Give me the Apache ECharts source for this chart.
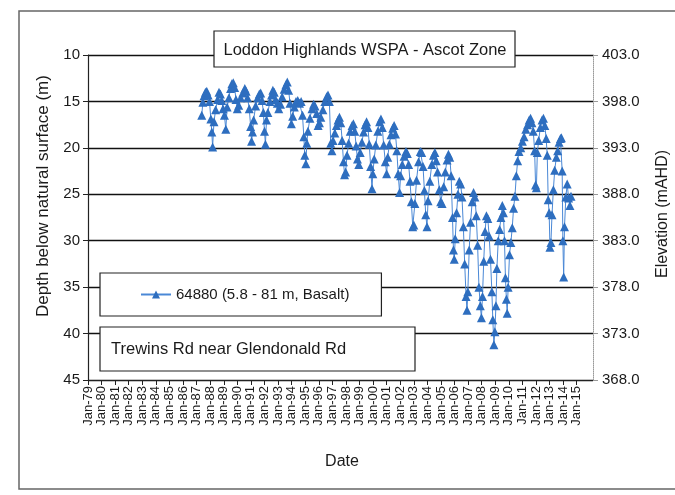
<!DOCTYPE html>
<html>
<head>
<meta charset="utf-8">
<script src="https://cdn.jsdelivr.net/npm/echarts@6/dist/echarts.min.js"></script>
<style>html,body{margin:0;padding:0;background:#fff}#c{width:675px;height:495px}</style>
</head>
<body>
<div id="c"></div>
<script>
// ---- data ----
var seriesName = '64880 (5.8 - 81 m, Basalt)';
var titleText = 'Loddon Highlands WSPA - Ascot Zone';
var siteText = 'Trewins Rd near Glendonald Rd';
var groundElevation = 413; // mAHD, elevation = groundElevation - depth
var yearTicks = [1979,1980,1981,1982,1983,1984,1985,1986,1987,1988,1989,1990,1991,1992,1993,1994,1995,1996,1997,1998,1999,2000,2001,2002,2003,2004,2005,2006,2007,2008,2009,2010,2011,2012,2013,2014,2015];
var yearLabels = ['Jan-79','Jan-80','Jan-81','Jan-82','Jan-83','Jan-84','Jan-85','Jan-86','Jan-87','Jan-88','Jan-89','Jan-90','Jan-91','Jan-92','Jan-93','Jan-94','Jan-95','Jan-96','Jan-97','Jan-98','Jan-99','Jan-00','Jan-01','Jan-02','Jan-03','Jan-04','Jan-05','Jan-06','Jan-07','Jan-08','Jan-09','Jan-10','Jan-11','Jan-12','Jan-13','Jan-14','Jan-15'];
var dates = [
1987.38,1987.46,1987.55,1987.65,1987.75,1987.85,1987.95,1988.05,1988.12,1988.18,1988.28,1988.4,1988.55,1988.65,1988.75,1988.85,1988.95,
1989.05,1989.15,1989.25,1989.38,1989.5,1989.6,1989.7,1989.8,1989.9,1990.0,1990.1,1990.25,1990.4,1990.55,1990.65,1990.75,1990.88,1990.98,
1991.05,1991.12,1991.2,1991.35,1991.5,1991.62,1991.72,1991.82,1991.92,1992.0,1992.07,1992.15,1992.25,1992.4,1992.52,1992.62,1992.72,1992.82,1992.95,
1993.05,1993.18,1993.3,1993.45,1993.58,1993.68,1993.78,1993.88,1993.98,1994.08,1994.2,1994.32,1994.45,1994.58,1994.7,1994.8,1994.9,1994.97,
1995.05,1995.12,1995.2,1995.35,1995.5,1995.62,1995.72,1995.85,1995.95,1996.05,1996.15,1996.3,1996.45,1996.58,1996.68,1996.78,1996.88,1996.97,
1997.05,1997.18,1997.3,1997.42,1997.52,1997.62,1997.72,1997.82,1997.9,1997.98,1998.08,1998.2,1998.32,1998.45,1998.55,1998.65,1998.75,1998.85,1998.95,
1999.05,1999.18,1999.3,1999.42,1999.52,1999.62,1999.72,1999.82,1999.92,1999.98,2000.08,2000.2,2000.35,2000.48,2000.58,2000.68,2000.78,2000.9,
2001.0,2001.08,2001.2,2001.32,2001.45,2001.55,2001.65,2001.75,2001.85,2001.95,2002.03,2002.15,2002.28,2002.42,2002.52,2002.62,2002.72,2002.82,2002.92,
2003.0,2003.08,2003.2,2003.35,2003.48,2003.58,2003.68,2003.78,2003.88,2003.97,2004.05,2004.18,2004.32,2004.45,2004.55,2004.65,2004.75,2004.88,2004.98,
2005.08,2005.2,2005.32,2005.45,2005.55,2005.65,2005.75,2005.85,2005.92,2005.98,2006.05,2006.15,2006.25,2006.35,2006.45,2006.55,2006.65,2006.75,2006.85,2006.92,2006.98,
2007.08,2007.18,2007.3,2007.4,2007.5,2007.6,2007.7,2007.8,2007.9,2007.98,2008.06,2008.15,2008.25,2008.35,2008.45,2008.55,2008.65,2008.75,2008.82,2008.9,2008.97,
2009.05,2009.12,2009.22,2009.32,2009.42,2009.52,2009.6,2009.68,2009.75,2009.82,2009.88,2009.95,2010.05,2010.15,2010.25,2010.35,2010.45,2010.55,2010.65,2010.75,2010.88,
2011.0,2011.12,2011.25,2011.38,2011.5,2011.6,2011.7,2011.8,2011.9,2011.97,2012.03,2012.1,2012.2,2012.32,2012.45,2012.55,2012.65,2012.75,2012.83,2012.9,2012.97,
2013.03,2013.1,2013.18,2013.28,2013.38,2013.5,2013.6,2013.7,2013.8,2013.87,2013.93,2013.98,2014.04,2014.1,2014.2,2014.3,2014.4,2014.5,2014.58
];
var depths = [
16.5,15.1,14.4,14.0,13.9,14.3,15.0,16.9,18.3,19.9,17.2,15.9,14.8,14.0,14.2,14.9,15.8,
16.5,18.0,15.6,14.6,13.6,13.1,13.0,13.5,14.8,15.8,15.4,14.6,14.1,13.6,13.9,14.6,15.8,17.7,
19.3,18.3,17.0,15.5,14.6,14.2,14.1,14.9,16.2,18.2,19.6,17.0,16.2,15.0,14.3,13.8,14.0,14.8,15.2,
15.8,15.3,14.5,13.7,13.2,12.9,13.8,15.2,17.4,16.6,15.6,15.0,14.9,15.2,15.0,16.5,18.8,20.8,
21.7,19.5,18.2,16.8,15.8,15.3,15.5,16.3,17.6,17.3,16.7,15.9,15.0,14.5,14.3,15.0,19.5,20.3,
19.2,18.4,17.6,17.0,16.7,17.3,19.2,21.5,22.9,22.6,20.8,19.5,18.2,17.6,17.4,18.2,19.8,21.2,21.8,
20.5,19.4,18.3,17.5,17.2,17.8,19.6,22.0,24.4,22.8,21.2,19.7,18.2,17.2,16.9,17.8,19.7,21.5,
22.8,21.0,19.6,18.6,17.9,17.6,18.5,20.3,22.8,24.8,23.0,21.8,20.9,20.4,20.6,21.8,23.6,25.8,28.5,
28.3,26.0,23.5,21.5,20.4,20.5,22.0,24.6,27.2,28.5,25.7,23.6,21.8,20.8,20.5,21.4,22.6,24.5,25.8,
26.0,24.2,22.6,21.3,20.7,21.0,23.0,27.5,31.0,32.0,29.8,27.0,25.0,23.6,23.9,25.3,28.5,32.5,36.0,37.5,35.5,
31.0,28.0,25.8,24.8,25.3,27.3,30.5,35.0,37.0,38.3,36.0,32.2,29.0,27.3,27.6,29.5,32.0,35.5,38.5,41.2,39.8,
37.0,33.0,30.0,28.8,27.5,26.2,27.0,30.0,34.0,36.3,37.8,35.0,31.5,30.2,28.6,26.5,25.2,23.0,21.4,20.4,20.0,
19.3,18.8,18.0,17.5,17.0,16.8,17.3,18.2,20.3,24.0,24.3,20.5,19.2,17.8,17.0,16.8,17.6,19.0,20.8,25.6,27.0,
30.7,30.2,27.2,24.5,22.4,21.0,20.3,19.4,19.0,18.9,22.5,30.0,33.9,28.5,25.3,23.9,25.4,26.2,25.2
];

var FONT = '"Liberation Sans", Arial, sans-serif';
var TXT = '#1a1a1a';
var chart = echarts.init(document.getElementById('c'), null, {renderer: 'canvas'});
var points = dates.map(function (d, i) { return [d, depths[i]]; });

chart.setOption({
  animation: false,
  backgroundColor: '#fff',
  textStyle: {fontFamily: FONT, color: TXT},
  grid: {left: 88, right: 82, top: 55, bottom: 115, containLabel: false},
  xAxis: {
    type: 'value', min: 1979, max: 2016.2,
    axisLine: {onZero: false, lineStyle: {color: '#222', width: 1.2}},
    axisTick: {customValues: yearTicks, length: 5, lineStyle: {color: '#222'}},
    axisLabel: {
      customValues: yearTicks, rotate: 90, margin: 6, fontSize: 13, color: TXT, fontFamily: FONT,
      formatter: function (v) { var i = yearTicks.indexOf(Math.round(v)); return i >= 0 ? yearLabels[i] : ''; }
    },
    splitLine: {show: false}
  },
  yAxis: [{
    type: 'value', inverse: true, min: 10, max: 45, interval: 5, position: 'left',
    axisLine: {show: true, lineStyle: {color: '#222', width: 1.2}},
    axisTick: {show: true, length: 5, lineStyle: {color: '#222'}},
    axisLabel: {fontSize: 15, color: TXT, margin: 8, fontFamily: FONT},
    splitLine: {show: true, lineStyle: {color: '#111', width: 1.4}}
  }, {
    type: 'value', inverse: true, min: 10, max: 45, interval: 5, position: 'right',
    axisLine: {show: true, lineStyle: {color: '#999', width: 1, type: 'dotted'}},
    axisTick: {show: true, length: 5, lineStyle: {color: '#999'}},
    axisLabel: {fontSize: 15, color: TXT, margin: 9, fontFamily: FONT,
      formatter: function (v) { return (groundElevation - v).toFixed(1); }},
    splitLine: {show: false}
  }],
  legend: {
    left: 100, top: 273, orient: 'horizontal',
    backgroundColor: '#fff', borderColor: '#222', borderWidth: 1.2,
    padding: [14, 32, 14, 40], itemWidth: 30, itemHeight: 10, itemGap: 5,
    textStyle: {fontSize: 15, color: TXT, fontFamily: FONT},
    data: [seriesName], z: 10
  },
  series: [{
    name: seriesName, type: 'line', yAxisIndex: 0,
    data: points, symbol: 'triangle', symbolSize: 9,
    itemStyle: {color: '#2e6ebf'},
    lineStyle: {color: '#4a88d6', width: 1},
    z: 3
  }],
  graphic: [
    {type: 'rect', z: 100, shape: {x: 19, y: 11, width: 665, height: 478},
     style: {fill: 'none', stroke: '#666', lineWidth: 1.5}},
    {type: 'rect', z: 100, shape: {x: 214, y: 31, width: 301, height: 36},
     style: {fill: '#fff', stroke: '#222', lineWidth: 1.2}},
    {type: 'text', z: 101, x: 365, y: 50,
     style: {text: titleText, fontSize: 16.5, fontFamily: FONT, fill: TXT, align: 'center', verticalAlign: 'middle'}},
    {type: 'rect', z: 100, shape: {x: 100, y: 327, width: 315, height: 44},
     style: {fill: '#fff', stroke: '#222', lineWidth: 1.2}},
    {type: 'text', z: 101, x: 111, y: 349,
     style: {text: siteText, fontSize: 16.5, fontFamily: FONT, fill: TXT, align: 'left', verticalAlign: 'middle'}},
    {type: 'text', z: 101, x: 43, y: 196, rotation: Math.PI / 2,
     style: {text: 'Depth below natural surface (m)', fontSize: 17, fontFamily: FONT, fill: TXT, align: 'center', verticalAlign: 'middle'}},
    {type: 'text', z: 101, x: 663, y: 214, rotation: Math.PI / 2,
     style: {text: 'Elevation (mAHD)', fontSize: 16, fontFamily: FONT, fill: TXT, align: 'center', verticalAlign: 'middle'}},
    {type: 'text', z: 101, x: 342, y: 462,
     style: {text: 'Date', fontSize: 16, fontFamily: FONT, fill: TXT, align: 'center', verticalAlign: 'middle'}}
  ]
});
</script>
</body>
</html>
